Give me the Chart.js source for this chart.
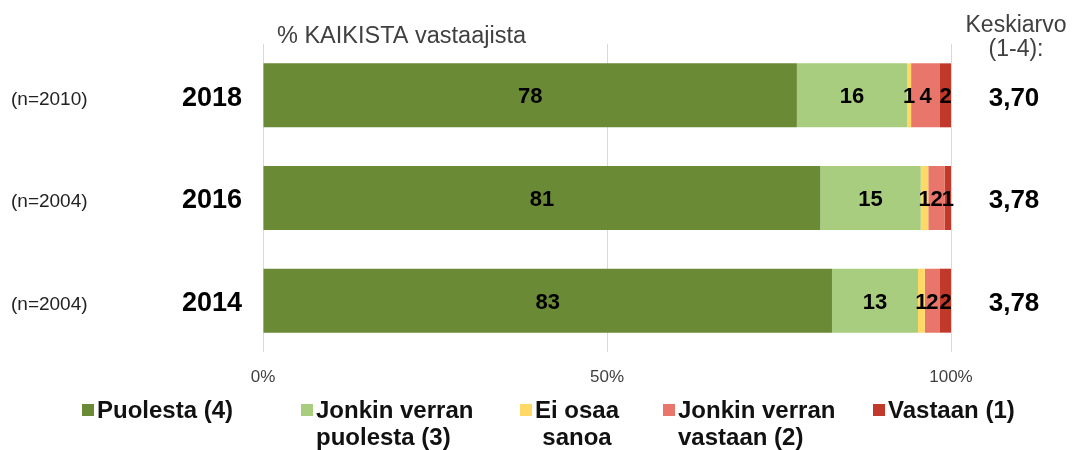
<!DOCTYPE html>
<html>
<head>
<meta charset="utf-8">
<script src="https://cdn.jsdelivr.net/npm/chart.js@4.4.0/dist/chart.umd.min.js"></script>
<style>
  html, body { margin: 0; padding: 0; background: #fff; }
  #wrap { width: 1072px; height: 450px; }
</style>
</head>
<body>
<div id="wrap"><canvas id="chart" width="1072" height="450"></canvas></div>
<script>
// Data
const years = ['2018', '2016', '2014'];
const sampleSizes = ['(n=2010)', '(n=2004)', '(n=2004)'];
const means = ['3,70', '3,78', '3,78'];

const puolesta = [77.6, 81.0, 82.7];
const jonkinPuolesta = [16.0, 14.6, 12.5];
const eiOsaa = [0.6, 1.1, 1.0];
const jonkinVastaan = [4.2, 2.4, 2.2];
const vastaan = [1.6, 0.9, 1.6];

const seriesNames = ['Puolesta (4)', 'Jonkin verran puolesta (3)', 'Ei osaa sanoa', 'Jonkin verran vastaan (2)', 'Vastaan (1)'];
const legendLines = [['Puolesta (4)'], ['Jonkin verran', 'puolesta (3)'], ['Ei osaa', 'sanoa'], ['Jonkin verran', 'vastaan (2)'], ['Vastaan (1)']];
const xTicks = [0, 50, 100];

const colors = ['#6a8a36', '#a8cd7e', '#ffd966', '#e8766a', '#c0392b'];
const FONT = '"Liberation Sans", Arial, sans-serif';

const seriesValues = [puolesta, jonkinPuolesta, eiOsaa, jonkinVastaan, vastaan];

// labels inside the bars, side texts and legend
const decorations = {
    id: 'decorations',
    afterDatasetsDraw(chart) {
        const ctx = chart.ctx;
        const yScale = chart.scales.y;
        const area = chart.chartArea;

        ctx.save();
        // segment values
        ctx.fillStyle = '#000';
        ctx.font = 'bold 22px ' + FONT;
        ctx.textAlign = 'center';
        ctx.textBaseline = 'middle';
        chart.data.datasets.forEach((ds, di) => {
            chart.getDatasetMeta(di).data.forEach((bar, i) => {
                const p = bar.getCenterPoint();
                ctx.fillText(String(Math.round(ds.data[i])), p.x, p.y + 2);
            });
        });

        // rows: n, year, mean
        years.forEach((yr, i) => {
            const y = yScale.getPixelForValue(i);
            ctx.fillStyle = '#222';
            ctx.font = '19px ' + FONT;
            ctx.textAlign = 'left';
            ctx.fillText(sampleSizes[i], 11, y + 4);

            ctx.fillStyle = '#000';
            ctx.font = 'bold 27px ' + FONT;
            ctx.textAlign = 'right';
            ctx.fillText(yr, area.left - 21, y + 3);

            ctx.font = 'bold 26px ' + FONT;
            ctx.textAlign = 'center';
            ctx.fillText(means[i], 1014, y + 3);
        });

        // headers
        ctx.fillStyle = '#404040';
        ctx.textBaseline = 'alphabetic';
        ctx.font = '23.5px ' + FONT;
        ctx.textAlign = 'left';
        ctx.fillText('% KAIKISTA vastaajista', 277, 43);
        ctx.font = '23px ' + FONT;
        ctx.textAlign = 'center';
        ctx.fillText('Keskiarvo', 1016, 32);
        ctx.fillText('(1-4):', 1016, 56);

        // legend
        const legendX = [97, 316, 535, 678, 888];
        ctx.font = 'bold 24px ' + FONT;
        ctx.textAlign = 'left';
        legendLines.forEach((lines, i) => {
            const x = legendX[i];
            ctx.fillStyle = colors[i];
            ctx.fillRect(x - 15, 404, 12, 12);
            ctx.fillStyle = '#111';
            const w0 = ctx.measureText(lines[0]).width;
            lines.forEach((line, j) => {
                let lx = x;
                if (i === 2) lx = x + (w0 - ctx.measureText(line).width) / 2;
                ctx.fillText(line, lx, 418 + j * 27);
            });
        });
        ctx.restore();
    }
};

new Chart(document.getElementById('chart'), {
    type: 'bar',
    data: {
        labels: years,
        datasets: seriesValues.map((vals, i) => ({
            label: seriesNames[i],
            data: vals,
            backgroundColor: colors[i],
            borderWidth: 0,
            barPercentage: 0.623,
            categoryPercentage: 1
        }))
    },
    options: {
        indexAxis: 'y',
        responsive: false,
        devicePixelRatio: 1,
        animation: false,
        layout: { padding: { left: 263, right: 121, top: 44, bottom: 0 } },
        plugins: {
            legend: { display: false },
            tooltip: { enabled: false }
        },
        scales: {
            x: {
                stacked: true,
                min: 0,
                max: 100,
                afterFit(scale) { scale.height = 98; },
                afterBuildTicks(scale) { scale.ticks = xTicks.map(v => ({ value: v })); },
                grid: { color: '#d9d9d9', drawTicks: false },
                border: { display: false },
                ticks: {
                    padding: 15,
                    color: '#404040',
                    font: { family: FONT, size: 17 },
                    callback: v => v + '%'
                }
            },
            y: {
                stacked: true,
                display: false
            }
        }
    },
    plugins: [decorations]
});
</script>
</body>
</html>
